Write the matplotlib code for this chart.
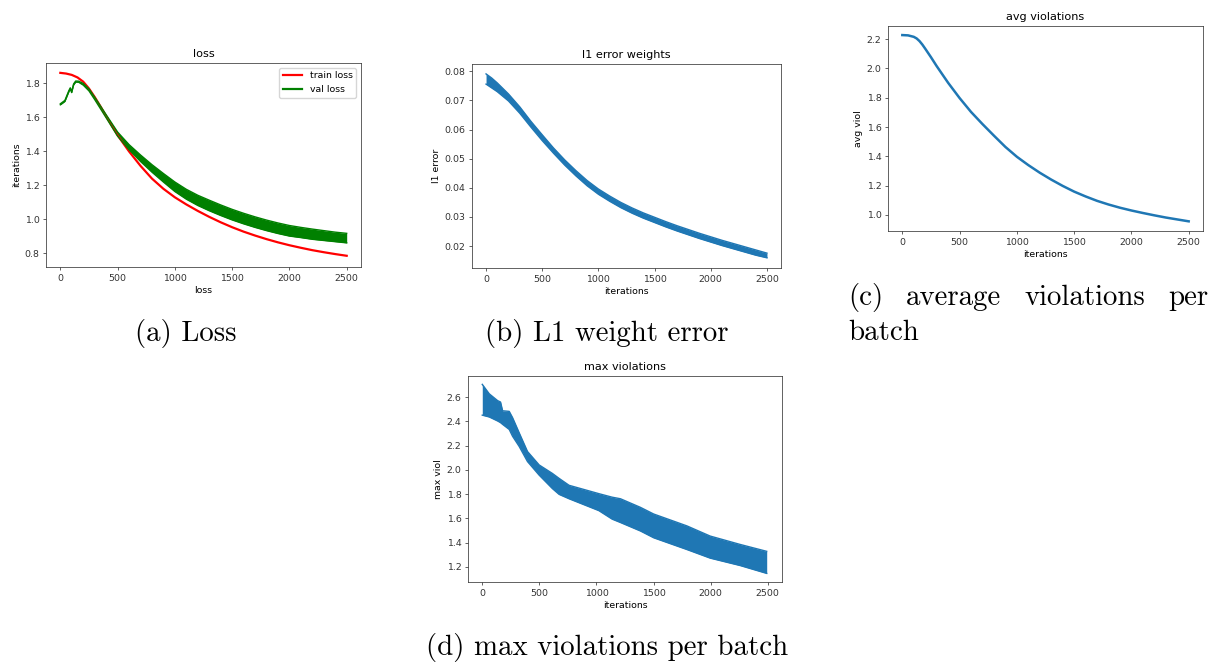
"""Training curves figure: loss, l1 weight error, avg and max violations."""

import matplotlib
matplotlib.use('agg')
from matplotlib import pyplot

FIG_WIDTH_PX = 1215
FIG_HEIGHT_PX = 666
DPI = 100

# the panels were made at 72 dpi and shrunk a bit for the page
SCALE = 0.94 * 72 / DPI

# panel (a) loss
TRAIN_ITERS = [0, 50, 100, 150, 200, 250, 300, 350, 400, 500, 600, 700, 800,
               900, 1000, 1100, 1200, 1300, 1400, 1500, 1600, 1700, 1800,
               1900, 2000, 2100, 2200, 2300, 2400, 2500]
TRAIN_LOSS = [1.862, 1.858, 1.850, 1.835, 1.81, 1.77, 1.72, 1.665, 1.607,
              1.495, 1.40, 1.315, 1.24, 1.18, 1.13, 1.088, 1.05, 1.015, 0.983,
              0.954, 0.928, 0.905, 0.884, 0.865, 0.848, 0.833, 0.819, 0.807,
              0.796, 0.786]

VAL_ITERS = [0, 40, 75, 87, 99, 116, 134, 160, 200, 250, 300, 400, 500, 600,
             700, 800, 900, 1000, 1100, 1200, 1300, 1400, 1500, 1600, 1700,
             1800, 1900, 2000, 2100, 2200, 2300, 2400, 2500]
VAL_LOSS_HIGH = [1.680, 1.700, 1.758, 1.774, 1.752, 1.797, 1.814, 1.813,
                 1.800, 1.768, 1.719, 1.616, 1.514, 1.440, 1.379, 1.322,
                 1.270, 1.220, 1.177, 1.142, 1.113, 1.085, 1.059, 1.036,
                 1.015, 0.996, 0.979, 0.964, 0.953, 0.943, 0.934, 0.925,
                 0.918]
VAL_LOSS_LOW = [1.674, 1.694, 1.752, 1.768, 1.746, 1.791, 1.808, 1.807,
                1.790, 1.756, 1.705, 1.598, 1.490, 1.410, 1.341, 1.278,
                1.220, 1.164, 1.119, 1.082, 1.051, 1.023, 0.997, 0.974,
                0.953, 0.934, 0.917, 0.902, 0.893, 0.883, 0.876, 0.869,
                0.862]

# panel (b) l1 error of weights
L1_ITERS = [0, 50, 100, 200, 300, 400, 500, 600, 700, 800, 900, 1000, 1100,
            1200, 1300, 1400, 1500, 1600, 1700, 1800, 1900, 2000, 2100, 2200,
            2300, 2400, 2500]
L1_HIGH = [0.0791, 0.0777, 0.0760, 0.0722, 0.0678, 0.0628, 0.0582, 0.0537,
           0.0496, 0.0459, 0.0425, 0.0396, 0.0372, 0.0350, 0.0331, 0.0314,
           0.0299, 0.0284, 0.0270, 0.0257, 0.0244, 0.0232, 0.0220, 0.0209,
           0.0198, 0.0187, 0.0176]
L1_LOW = [0.0756, 0.0743, 0.0730, 0.0698, 0.0656, 0.0608, 0.0562, 0.0519,
          0.0478, 0.0441, 0.0407, 0.0378, 0.0354, 0.0332, 0.0313, 0.0296,
          0.0281, 0.0266, 0.0252, 0.0239, 0.0226, 0.0214, 0.0202, 0.0191,
          0.0180, 0.0169, 0.0160]

# panel (c) average violations
AVG_ITERS = [0, 50, 100, 125, 150, 175, 200, 250, 300, 400, 500, 600, 700,
             800, 900, 1000, 1100, 1200, 1300, 1400, 1500, 1600, 1700, 1800,
             1900, 2000, 2100, 2200, 2300, 2400, 2500]
AVG_VIOL = [2.228, 2.226, 2.216, 2.205, 2.187, 2.163, 2.135, 2.077, 2.016,
            1.902, 1.798, 1.703, 1.620, 1.541, 1.464, 1.397, 1.340, 1.288,
            1.241, 1.198, 1.159, 1.126, 1.096, 1.071, 1.049, 1.030, 1.013,
            0.997, 0.982, 0.969, 0.956]

# panel (d) max violations
MAX_ITERS = [0, 61, 134, 160, 178, 236, 265, 323, 396, 498, 614, 673, 760,
             1021, 1137, 1210, 1385, 1501, 1792, 1996, 2258, 2491]
MAX_HIGH = [2.706, 2.628, 2.572, 2.56, 2.488, 2.483, 2.432, 2.307, 2.152,
            2.041, 1.971, 1.930, 1.873, 1.804, 1.775, 1.762, 1.691, 1.636,
            1.538, 1.454, 1.385, 1.328]
MAX_LOW = [2.452, 2.437, 2.404, 2.39, 2.376, 2.334, 2.278, 2.194, 2.069,
           1.957, 1.846, 1.798, 1.762, 1.664, 1.594, 1.566, 1.496, 1.440,
           1.343, 1.272, 1.211, 1.146]

X_TICKS = [0, 500, 1000, 1500, 2000, 2500]

BLUE = '#1f77b4'
CAPTION_FONT = 'cmr10'
CAPTION_SIZE = 20.8


def _set_style():
    pyplot.rcParams.update({
        'font.size': 10 * SCALE,
        'axes.titlesize': 12 * SCALE,
        'axes.labelsize': 10 * SCALE,
        'xtick.labelsize': 10 * SCALE,
        'ytick.labelsize': 10 * SCALE,
        'legend.fontsize': 10 * SCALE,
        'axes.linewidth': 0.8 * SCALE,
        'xtick.major.width': 0.8 * SCALE,
        'ytick.major.width': 0.8 * SCALE,
        'xtick.major.size': 3.5 * SCALE,
        'ytick.major.size': 3.5 * SCALE,
        'xtick.major.pad': 3.5 * SCALE,
        'ytick.major.pad': 3.5 * SCALE,
        'axes.labelpad': 4.0 * SCALE,
        'axes.titlepad': 6.0 * SCALE,
        'axes.edgecolor': '#333333',
        'xtick.color': '#333333',
        'ytick.color': '#333333',
    })


def _add_axes(figure_object, left, top, right, bottom):
    """Adds axes from pixel box (origin at top-left of figure)."""
    return figure_object.add_axes([
        left / FIG_WIDTH_PX, 1 - bottom / FIG_HEIGHT_PX,
        (right - left) / FIG_WIDTH_PX, (bottom - top) / FIG_HEIGHT_PX
    ])


def _band(axes_object, x_values, low_values, high_values, colour):
    axes_object.fill_between(x_values, low_values, high_values,
                             color=colour, linewidth=0)
    axes_object.plot(x_values, high_values, color=colour, linewidth=1.0)
    axes_object.plot(x_values, low_values, color=colour, linewidth=1.0)


def _caption(figure_object, x_px, y_px, text, ha='center'):
    return figure_object.text(
        x_px / FIG_WIDTH_PX, 1 - y_px / FIG_HEIGHT_PX, text, ha=ha,
        va='center', family=CAPTION_FONT, fontsize=CAPTION_SIZE)


def _justified_caption(figure_object, left_px, right_px, y_px, words):
    """Spreads words over one line, like a justified LaTeX caption."""
    text_objects = [_caption(figure_object, left_px, y_px, w, ha='left')
                    for w in words]
    renderer = figure_object.canvas.get_renderer()
    widths = [t.get_window_extent(renderer).width for t in text_objects]
    gap = (right_px - left_px - sum(widths)) / (len(words) - 1)
    x_px = left_px
    for text_object, width in zip(text_objects, widths):
        text_object.set_x(x_px / FIG_WIDTH_PX)
        x_px += width + gap


def _run():
    _set_style()
    figure_object = pyplot.figure(
        figsize=(FIG_WIDTH_PX / DPI, FIG_HEIGHT_PX / DPI), dpi=DPI)

    # (a) loss
    axes_object = _add_axes(figure_object, 46, 63, 361, 267)
    axes_object.plot(TRAIN_ITERS, TRAIN_LOSS, color='red', linewidth=1.6,
                     label='train loss')
    _band(axes_object, VAL_ITERS, VAL_LOSS_LOW, VAL_LOSS_HIGH, 'green')
    axes_object.plot([], [], color='green', linewidth=1.6, label='val loss')
    axes_object.set_xticks(X_TICKS)
    axes_object.set_yticks([0.8, 1.0, 1.2, 1.4, 1.6, 1.8])
    axes_object.set_ylim(0.72, 1.92)
    axes_object.set_title('loss')
    axes_object.set_xlabel('loss')
    axes_object.set_ylabel('iterations')
    axes_object.legend(loc='upper right')

    # (b) l1 error
    axes_object = _add_axes(figure_object, 472, 64, 781, 268)
    _band(axes_object, L1_ITERS, L1_LOW, L1_HIGH, BLUE)
    axes_object.set_xticks(X_TICKS)
    axes_object.set_yticks([0.02, 0.03, 0.04, 0.05, 0.06, 0.07, 0.08])
    axes_object.set_ylim(0.0125, 0.0825)
    axes_object.set_title('l1 error weights')
    axes_object.set_xlabel('iterations')
    axes_object.set_ylabel('l1 error')

    # (c) average violations
    axes_object = _add_axes(figure_object, 888, 26, 1203, 231)
    axes_object.plot(AVG_ITERS, AVG_VIOL, color=BLUE, linewidth=1.8)
    axes_object.set_xticks(X_TICKS)
    axes_object.set_yticks([1.0, 1.2, 1.4, 1.6, 1.8, 2.0, 2.2])
    axes_object.set_ylim(0.89, 2.29)
    axes_object.set_title('avg violations')
    axes_object.set_xlabel('iterations')
    axes_object.set_ylabel('avg viol')

    # (d) max violations
    axes_object = _add_axes(figure_object, 468, 376, 782, 582)
    _band(axes_object, MAX_ITERS, MAX_LOW, MAX_HIGH, BLUE)
    axes_object.set_xticks(X_TICKS)
    axes_object.set_yticks([1.2, 1.4, 1.6, 1.8, 2.0, 2.2, 2.4, 2.6])
    axes_object.set_ylim(1.075, 2.775)
    axes_object.set_title('max violations')
    axes_object.set_xlabel('iterations')
    axes_object.set_ylabel('max viol')

    for this_axes in figure_object.axes:
        this_axes.set_xlim(-125, 2625)

    _caption(figure_object, 186, 333, '(a) Loss')
    _caption(figure_object, 607, 333, '(b) L1 weight error')
    _justified_caption(figure_object, 848, 1208, 298,
                       ['(c)', 'average', 'violations', 'per'])
    _caption(figure_object, 848, 333, 'batch', ha='left')
    _caption(figure_object, 607, 648, '(d) max violations per batch')

    figure_object.savefig('out.png', dpi=DPI)
    pyplot.close(figure_object)


if __name__ == '__main__':
    _run()
